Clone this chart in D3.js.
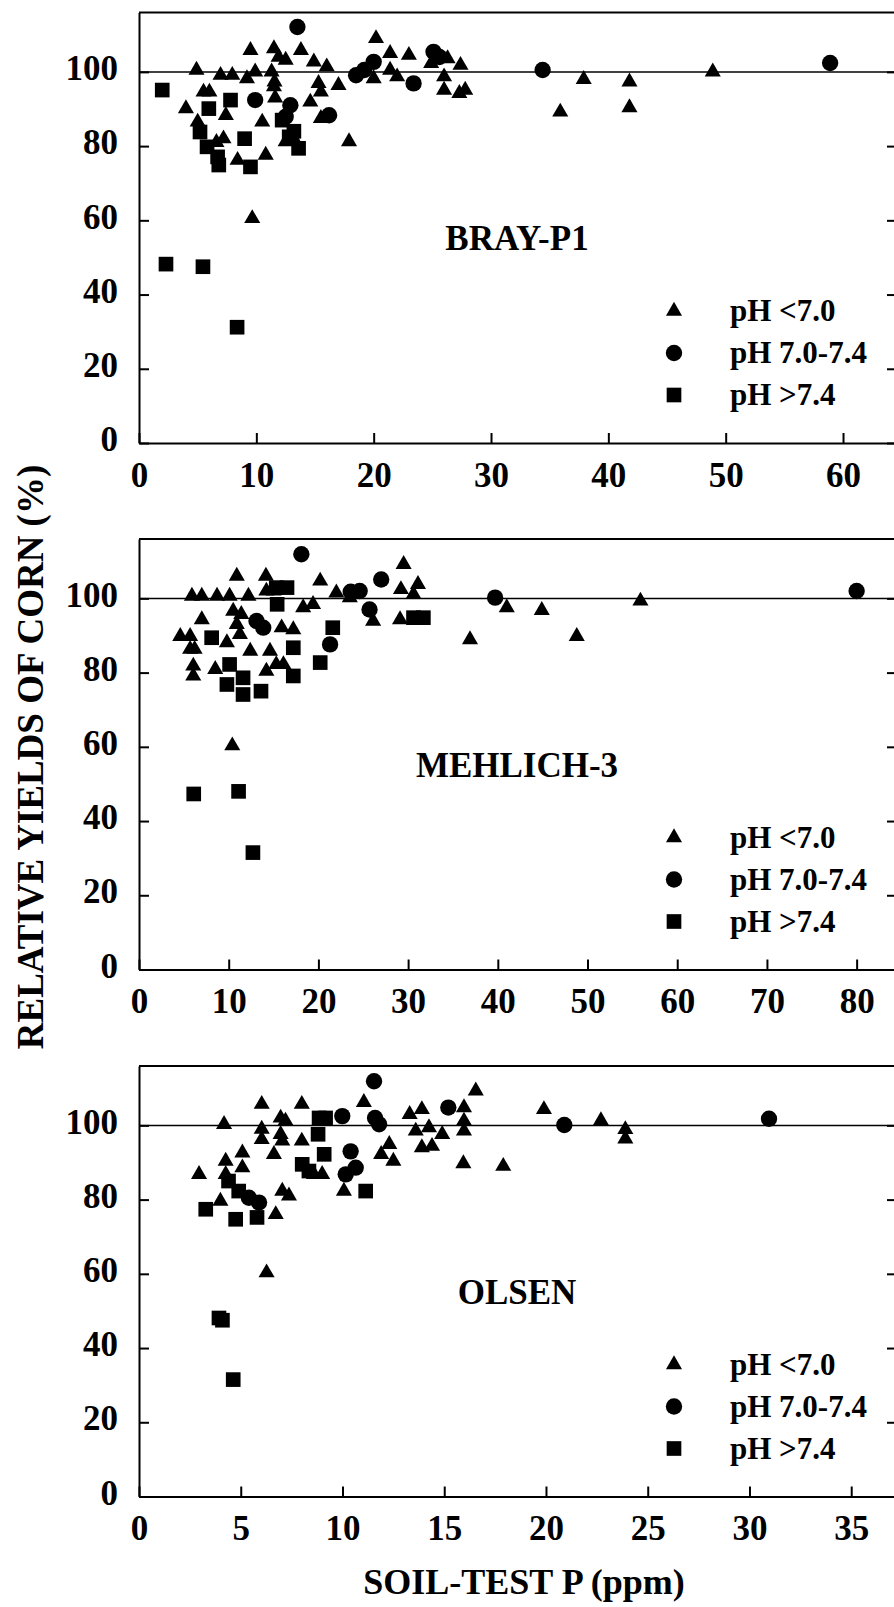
<!DOCTYPE html>
<html>
<meta charset="utf-8">
<head>
<script src="https://d3js.org/d3.v7.min.js"></script>
<style>
  body { margin: 0; background: #fff; }
  text { font-family: "Liberation Serif", "Times New Roman", serif; font-weight: bold; fill: #000; }
</style>
</head>
<body>
<script>

// ---- data: [soil-test P (ppm), relative yield (%)] ----

// BRAY-P1
var brayLow = [[4.9,100.5],[4.0,90.1],[5.5,94.6],[6.0,94.6],[5.0,86.5],[7.2,82],[7.4,88.3],[6.95,99.1],[7.95,99.1],[9.2,98.2],
  [9.9,100],[9.5,105.8],[8.4,76.2],[10.8,77.6],[10.5,86.5],[9.65,60.5],[11.5,106.3],[11.9,104],[12.5,103.2],[13.8,105.8],
  [11.3,100],[11.5,96],[11.6,93],[14.6,91.9],[13.1,82.5],[12.5,81.2],[17.9,81.2],[15.5,87.5],[14.9,102.7],[16.0,101.4],
  [15.3,96.9],[17.0,96.4],[15.5,94.6],[20.2,109],[21.4,105],[23.0,104.5],[20.0,98.2],[21.4,100.5],[22.0,98.7],[24.9,102.3],
  [26.3,103.6],[26.0,98.7],[27.4,101.8],[26.0,95.1],[27.3,94.2],[27.8,95.1],[37.9,98],[35.9,89.2],[41.8,97.3],[41.8,90.4],
  [48.9,100],[6.6,81],[11.55,97.3]];
var brayMid = [[13.5,112.1],[9.9,92.4],[12.9,91],[12.5,87.9],[16.2,88.3],[18.5,99.1],[19.2,100.5],[20.0,102.7],[23.4,96.9],
  [25.1,105.4],[25.6,104],[34.4,100.5],[58.9,102.4]];
var brayHigh = [[1.98,95.1],[5.95,90.1],[5.2,83.8],[5.8,79.8],[6.7,77.1],[6.8,74.9],[7.8,92.4],[9.0,82],[9.5,74.4],[13.6,79.4],
  [12.8,82.5],[12.2,87],[13.2,84],[2.3,48.2],[5.45,47.5],[8.36,31.2]];

// MEHLICH-3
var mehLow = [[5.9,100.6],[7.0,100.6],[8.7,100.6],[10.1,100.6],[12.2,100.6],[10.9,106],[14.15,106],[20.2,104.7],[29.5,109.2],
  [31.1,103.8],[29.2,102.4],[26.1,93.9],[29.1,94.3],[7.0,94.3],[4.6,89.8],[5.7,89.8],[5.7,86.3],[6.2,86.3],[6.05,81.8],
  [6.05,79.1],[9.8,88.1],[8.5,80.9],[14.6,85.8],[15.3,82.2],[16.1,82.2],[14.2,80.4],[15.9,92.1],[17.2,91.6],[10.5,96.6],
  [11.4,95.7],[10.9,93],[11.25,90.3],[18.3,97.5],[19.4,98.4],[22.0,101.5],[23.5,100.2],[12.4,85.8],[14.2,102],[15.0,102],
  [30.6,101.1],[41.0,97.5],[44.9,96.8],[55.9,99.3],[36.9,88.9],[48.8,89.8],[10.4,60.3]];
var mehMid = [[18.1,111.9],[27.0,105.1],[23.6,101.8],[24.6,102],[25.7,97],[21.3,87.6],[13.85,92.1],[13.1,93.9],[39.7,100.2],
  [80.0,102]];
var mehHigh = [[30.6,94.8],[31.7,94.8],[8.1,89.4],[10.1,82.2],[9.8,76.8],[11.6,78.6],[11.6,74.1],[13.6,75],[17.2,86.7],
  [21.6,92.1],[20.2,82.7],[17.2,79.1],[15.3,102.9],[16.5,102.9],[15.4,98.4],[6.1,47.3],[11.1,48],[12.7,31.5]];

// OLSEN
var olsLow = [[4.18,100.3],[6.03,105.7],[8.0,105.7],[11.05,106.2],[6.03,99],[6.03,96.2],[6.96,102],[7.2,101.2],[6.96,97.6],
  [7.04,95.8],[6.63,92.2],[2.95,86.8],[4.26,90.4],[5.08,92.6],[5.08,88.6],[4.26,86.8],[4.0,79.6],[7.04,82.3],[7.37,81],
  [6.72,76],[8.6,86.8],[9.0,86.8],[8.0,95.8],[10.07,82.3],[12.3,94.9],[12.5,90.4],[11.9,92.2],[13.3,103],[13.9,104.3],
  [13.6,98.5],[13.9,94],[16.55,109.3],[15.97,104.8],[15.97,101.2],[15.97,98.5],[19.9,104.3],[22.7,101.3],[23.9,98.9],
  [23.9,96.4],[15.94,89.7],[17.9,89],[14.25,99.4],[14.9,97.6],[14.4,94.4],[6.27,60.3]];
var olsMid = [[11.55,111.9],[5.4,80.5],[5.9,79.2],[9.99,102.5],[10.4,93],[10.65,88.6],[10.16,86.8],[11.6,102],[11.8,100.3],
  [15.2,104.8],[20.9,100.1],[30.96,101.8]];
var olsHigh = [[3.28,77.4],[4.75,74.7],[4.4,85],[4.9,82.3],[5.8,75.2],[8.02,89.5],[8.35,87.7],[8.85,102],[9.17,102],[9.1,92.2],
  [8.8,97.6],[11.14,82.3],[3.93,48.1],[4.1,47.5],[4.63,31.5]];

var panelNames = ["BRAY-P1", "MEHLICH-3", "OLSEN"];
var xTicks = [[0, 10, 20, 30, 40, 50, 60], [0, 10, 20, 30, 40, 50, 60, 70, 80], [0, 5, 10, 15, 20, 25, 30, 35]];
var xMax = [64.6, 84.5, 37.25];
var yTicks = [0, 20, 40, 60, 80, 100];
var yMax = 116;
var legendLabels = ["pH <7.0", "pH 7.0-7.4", "pH >7.4"];

var panels = [
  [brayLow, brayMid, brayHigh],
  [mehLow, mehMid, mehHigh],
  [olsLow, olsMid, olsHigh]
];

// ---- layout ----
var width = 894, height = 1607;
var left = 139, right = 897, panelH = 430.5;
var tops = [12.5, 539, 1066];

var symbols = [
  d3.symbol().type(d3.symbolTriangle).size(112),
  d3.symbol().type(d3.symbolCircle).size(210),
  d3.symbol().type(d3.symbolSquare).size(215)
];

var svg = d3.select("body").append("svg")
  .attr("width", width)
  .attr("height", height);

var y = d3.scaleLinear().domain([0, yMax]).range([panelH, 0]);

panels.forEach(function(series, p) {
  var x = d3.scaleLinear().domain([0, xMax[p]]).range([0, right - left]);

  var g = svg.append("g")
    .attr("transform", "translate(" + left + "," + tops[p] + ")");

  // frame top / right
  g.append("line")
    .attr("x1", 0).attr("x2", right - left)
    .attr("y1", 0).attr("y2", 0)
    .attr("stroke", "#000").attr("stroke-width", 2);
  g.append("line")
    .attr("x1", right - left).attr("x2", right - left)
    .attr("y1", 0).attr("y2", panelH)
    .attr("stroke", "#000").attr("stroke-width", 2);

  // x axis
  var xa = g.append("g")
    .attr("transform", "translate(0," + panelH + ")")
    .call(d3.axisBottom(x).tickValues(xTicks[p]).tickSizeInner(-10).tickSizeOuter(0).tickPadding(19));
  xa.selectAll("text").style("font-size", "35px");

  // y axis
  var ya = g.append("g")
    .call(d3.axisLeft(y).tickValues(yTicks).tickSizeInner(-10).tickSizeOuter(0).tickPadding(21));
  ya.selectAll("text").style("font-size", "35px").attr("dy", "0.22em");

  // inner ticks on the right side
  g.append("g")
    .attr("transform", "translate(" + (right - left) + ",0)")
    .call(d3.axisLeft(y).tickValues(yTicks).tickSize(10).tickFormat(""))
    .select(".domain").remove();

  g.selectAll(".domain, .tick line").attr("stroke", "#000").attr("stroke-width", 2);
  g.selectAll(".tick text").attr("font-family", null).attr("font-size", null);

  // 100 % reference line
  g.append("line")
    .attr("x1", 0).attr("x2", right - left)
    .attr("y1", y(100)).attr("y2", y(100))
    .attr("stroke", "#000").attr("stroke-width", 1.5);

  // method label
  g.append("text")
    .attr("x", (right - left) / 2 - 1)
    .attr("y", 237.5)
    .attr("text-anchor", "middle")
    .style("font-size", "35px")
    .text(panelNames[p]);

  // points
  series.forEach(function(pts, s) {
    g.selectAll(".pt" + s)
      .data(pts)
      .enter().append("path")
      .attr("class", "pt" + s)
      .attr("d", symbols[s])
      .attr("transform", function(d) { return "translate(" + x(d[0]) + "," + y(d[1]) + ")"; })
      .attr("fill", "#000");
  });

  // legend
  var legend = g.selectAll(".legend")
    .data(legendLabels)
    .enter().append("g")
    .attr("class", "legend")
    .attr("transform", function(d, i) { return "translate(" + (674 - left) + "," + (298.5 + i * 42) + ")"; });
  legend.append("path")
    .attr("d", function(d, i) { return symbols[i](); })
    .attr("fill", "#000");
  legend.append("text")
    .attr("x", 56)
    .attr("y", 10)
    .style("font-size", "31px")
    .text(function(d) { return d; });
});

// axis titles
svg.append("text")
  .attr("transform", "translate(43,757) rotate(-90)")
  .attr("text-anchor", "middle")
  .style("font-size", "37px")
  .text("RELATIVE YIELDS OF CORN (%)");

svg.append("text")
  .attr("x", 524)
  .attr("y", 1594)
  .attr("text-anchor", "middle")
  .style("font-size", "36px")
  .text("SOIL-TEST P (ppm)");

</script>
</body>
</html>
